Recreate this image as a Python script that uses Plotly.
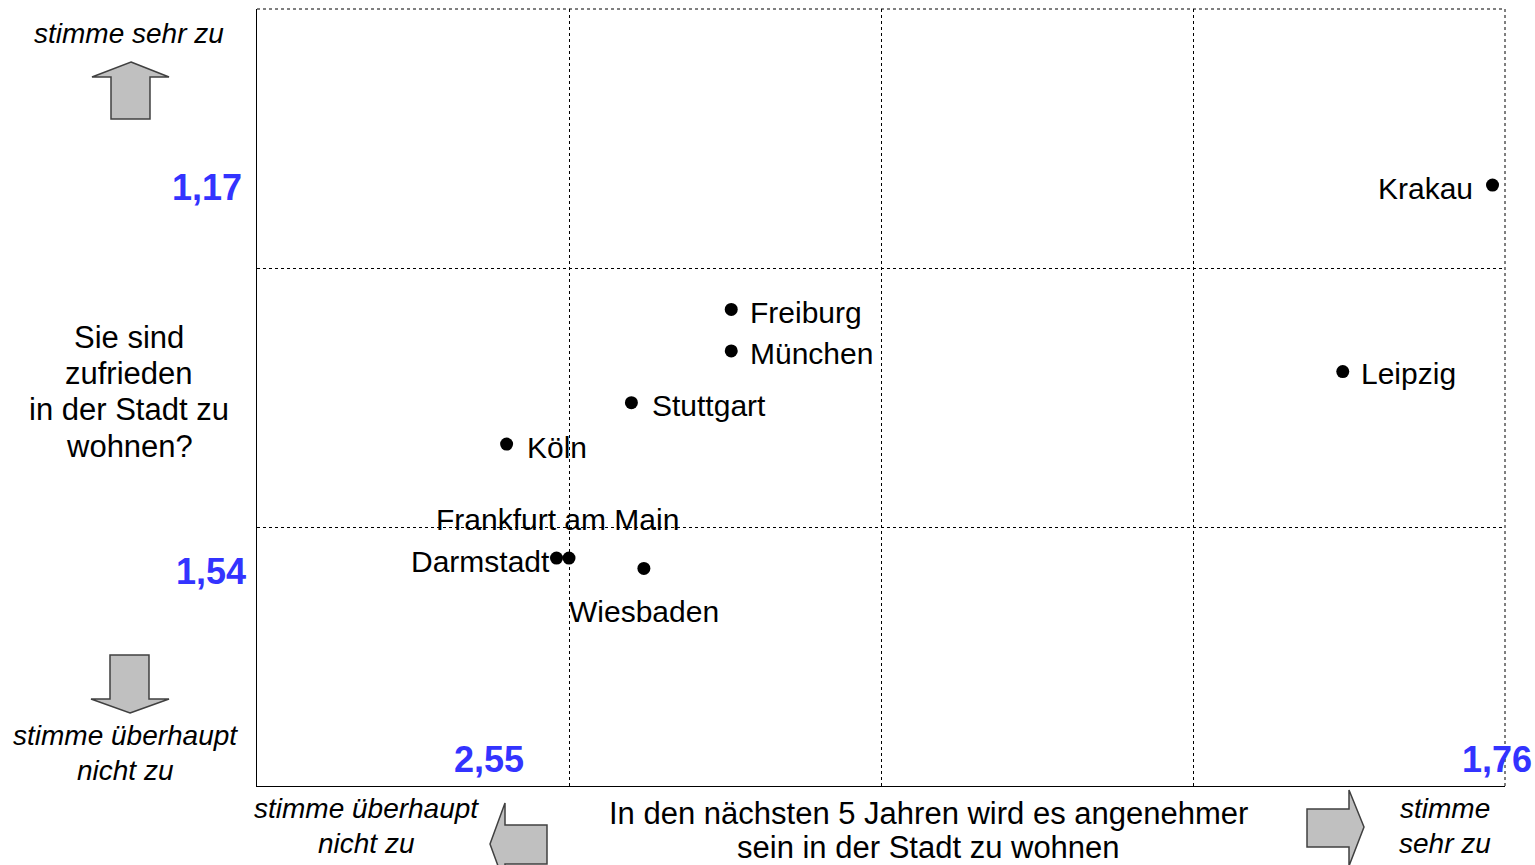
import plotly.graph_objects as go

# ---- data ----
cities = ["Krakau", "Leipzig", "Freiburg", "München", "Stuttgart", "Köln",
          "Darmstadt", "Frankfurt am Main", "Wiesbaden"]
angenehmer = [1.76, 1.88, 2.37, 2.37, 2.45, 2.55, 2.51, 2.50, 2.44]   # x: lower = stimme sehr zu
zufrieden = [1.17, 1.35, 1.29, 1.33, 1.38, 1.42, 1.53, 1.53, 1.54]     # y: lower = stimme sehr zu
x_grid = [2.5, 2.25, 2.0]
y_grid = [1.25, 1.5]
x_range = [2.75, 1.75]
y_range = [1.75, 1.0]
extreme_labels = ["1,17", "1,54", "2,55", "1,76"]

FONT = "Liberation Sans, Arial, sans-serif"
W, H = 1535, 865
L, R, T, B = 257, 30, 9, 79
PW, PH = W - L - R, H - T - B

def px(X, Y):
    return (X - L) / PW, (H - B - Y) / PH

fig = go.Figure()
fig.add_trace(go.Scatter(
    x=angenehmer, y=zufrieden, mode="markers",
    marker=dict(color="black", size=13), hoverinfo="text", text=cities,
    showlegend=False))

# label placement (style only)
place = {
    "Krakau": ("right", -18, -3),
    "Leipzig": ("left", 16, -2),
    "Freiburg": ("left", 17, -3),
    "München": ("left", 17, -3),
    "Stuttgart": ("left", 19, -3),
    "Köln": ("left", 18, -3),
    "Darmstadt": ("right", -5, -3),
    "Frankfurt am Main": ("center", -12, 39),
    "Wiesbaden": ("center", 0, -43),
}
annotations = []
for c, xv, yv in zip(cities, angenehmer, zufrieden):
    xa, xs, ys = place[c]
    annotations.append(dict(x=xv, y=yv, xref="x", yref="y", text=c, showarrow=False,
                            xanchor=xa, yanchor="middle", xshift=xs, yshift=ys,
                            font=dict(family=FONT, size=30, color="black")))

def ptext(X, Y, text, size, italic=False, color="black", bold=False, xanchor="center"):
    xp, yp = px(X, Y)
    t = text
    if italic:
        t = "<i>" + t + "</i>"
    if bold:
        t = "<b>" + t + "</b>"
    annotations.append(dict(x=xp, y=yp, xref="paper", yref="paper", text=t,
                            showarrow=False, xanchor=xanchor, yanchor="middle",
                            font=dict(family=FONT, size=size, color=color)))

def ptext_lines(X, Ys, lines, size, italic=False):
    for Y, ln in zip(Ys, lines):
        ptext(X, Y, ln, size, italic=italic)

BLUE = "#3333FF"
ptext(244, 188, extreme_labels[0], 36, color=BLUE, bold=True, xanchor="right")
ptext(248, 571, extreme_labels[1], 36, color=BLUE, bold=True, xanchor="right")
ptext(526, 759, extreme_labels[2], 36, color=BLUE, bold=True, xanchor="right")
ptext(1534, 759, extreme_labels[3], 36, color=BLUE, bold=True, xanchor="right")

ptext(129, 33, "stimme sehr zu", 28, italic=True)
ptext_lines(129, [337, 373, 409, 446],
            ["Sie sind", "zufrieden", "in der Stadt zu", "wohnen?"], 31)
ptext_lines(125, [735, 770], ["stimme überhaupt", "nicht zu"], 28, italic=True)
ptext_lines(366, [808, 843], ["stimme überhaupt", "nicht zu"], 28, italic=True)
ptext_lines(928, [813, 847], ["In den nächsten 5 Jahren wird es angenehmer",
                              "sein in der Stadt zu wohnen"], 31)
ptext_lines(1445, [808, 843], ["stimme", "sehr zu"], 28, italic=True)

shapes = []
def arrow(points):
    d = ""
    for i, (X, Y) in enumerate(points):
        xp, yp = px(X, Y)
        d += ("M" if i == 0 else "L") + f"{xp:.5f},{yp:.5f} "
    d += "Z"
    shapes.append(dict(type="path", path=d, xref="paper", yref="paper",
                       fillcolor="#C0C0C0", line=dict(color="#404040", width=1.5),
                       layer="above"))

# up arrow
arrow([(131, 62), (169, 77), (150, 77), (150, 119), (111, 119), (111, 77), (92, 77)])
# down arrow
arrow([(130, 713), (169, 699), (149, 699), (149, 655), (110, 655), (110, 699), (91, 699)])
# left arrow
arrow([(490, 844), (505, 803), (505, 825), (547, 825), (547, 864), (505, 864), (505, 885)])
# right arrow
arrow([(1364, 827), (1349, 790), (1349, 809), (1307, 809), (1307, 847), (1349, 847), (1349, 866)])

# dashed top and right border
shapes.append(dict(type="line", xref="paper", yref="paper", x0=0, x1=1, y0=1, y1=1,
                   line=dict(color="black", width=1, dash="3px,3px")))
shapes.append(dict(type="line", xref="paper", yref="paper", x0=1, x1=1, y0=0, y1=1,
                   line=dict(color="black", width=1, dash="3px,3px")))

fig.update_layout(
    width=W, height=H,
    margin=dict(l=L, r=R, t=T, b=B, pad=0),
    paper_bgcolor="white", plot_bgcolor="white",
    xaxis=dict(range=x_range, tickvals=x_grid, showticklabels=False, ticks="",
               showgrid=True, gridcolor="black", gridwidth=1, griddash="3px,3px",
               showline=True, linecolor="black", linewidth=1, zeroline=False),
    yaxis=dict(range=y_range, tickvals=y_grid, showticklabels=False, ticks="",
               showgrid=True, gridcolor="black", gridwidth=1, griddash="3px,3px",
               showline=True, linecolor="black", linewidth=1, zeroline=False),
    annotations=annotations, shapes=shapes,
)

fig.write_html("out.html", config={"displayModeBar": False},
               post_script="document.body.style.margin='0';document.body.style.overflow='hidden';")
